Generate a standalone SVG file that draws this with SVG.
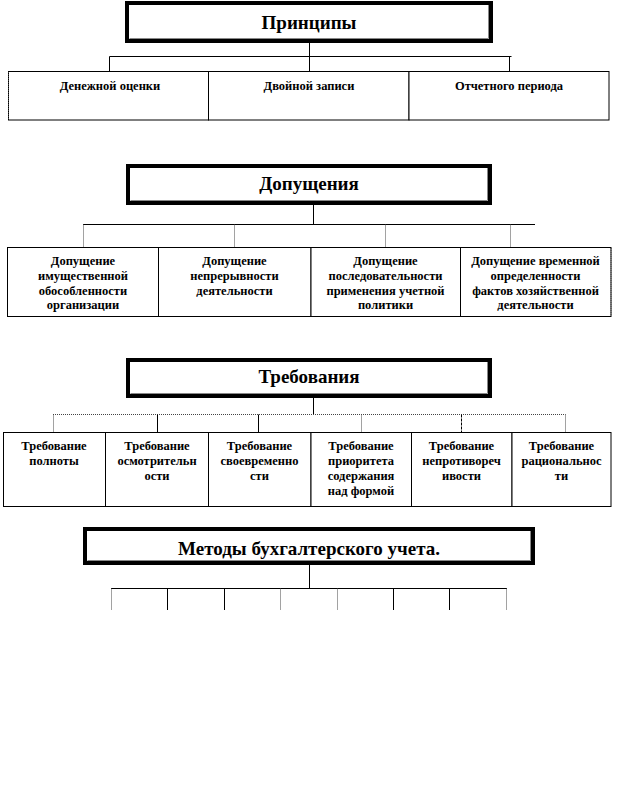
<svg xmlns="http://www.w3.org/2000/svg" width="618" height="803" viewBox="0 0 618 803">
<style>
  .title{fill:#fff;stroke:#000;stroke-width:4}
  .inner{fill:none;stroke:#888;stroke-width:1}
  .tt{font-family:"Liberation Serif","Times New Roman",serif;font-weight:bold;font-size:19px;text-anchor:middle;fill:#000}
  .box{fill:#fff;stroke:#000;stroke-width:1}
  .bt{font-family:"Liberation Serif","Times New Roman",serif;font-weight:bold;font-size:12.5px;text-anchor:middle;fill:#000}
  .ln{stroke:#000;stroke-width:1;fill:none}
  .dt{stroke:#444;stroke-width:1;fill:none;stroke-dasharray:1 1}
</style>
<rect width="618" height="803" fill="#fff"/>

<g id="connectors">
  <!-- section 1 -->
  <path class="ln" d="M309.5 43V56.5M109.5 56.5H511.5M109.5 56.5V71M309.5 56.5V71M509.5 56.5V71"/>
  <!-- section 2 -->
  <path class="ln" d="M313.5 205V224.5M83 224.5H535"/>
  <path class="dt" d="M83.5 224.5V247M234.5 224.5V247M385.5 224.5V247M510.5 224.5V247"/>
  <!-- section 3 -->
  <path class="ln" d="M313.5 398V414.5"/>
  <path class="dt" d="M53 414.5H565.5M53.5 414.5V432M361.5 414.5V432M565.5 414.5V432"/>
  <path class="ln" d="M157.5 414.5V432M258.5 414.5V432"/>
  <path class="ln" d="M461.5 414.5V432" stroke-dasharray="3 1"/>
  <!-- section 4 -->
  <path class="ln" d="M309.5 565V588.5M111 588.5H507"/>
  <path class="dt" d="M111.5 588.5V610M280.5 588.5V610M337.5 588.5V610M506.5 588.5V610"/>
  <path class="ln" d="M167.5 588.5V610M224.5 588.5V610M393.5 588.5V610M449.5 588.5V610"/>
</g>

<!-- Section 1 -->
<g id="principles">
  <rect class="title" x="127" y="3" width="364" height="38"/>
  <path class="inner" d="M129.5 38.5H488.5V5"/>
  <text class="tt" x="309" y="29">Принципы</text>
</g>
<g id="p-money">
  <rect class="box" x="8.5" y="71.5" width="200" height="48.5"/>
  <path class="dt" d="M8.5 72V120"/>
  <text class="bt" x="110" y="90">Денежной оценки</text>
</g>
<g id="p-double">
  <rect class="box" x="208.5" y="71.5" width="200.5" height="48.5"/>
  <text class="bt" x="309" y="90">Двойной записи</text>
</g>
<g id="p-period">
  <rect class="box" x="409" y="71.5" width="200" height="48.5"/>
  <text class="bt" x="509" y="90">Отчетного  периода</text>
</g>

<!-- Section 2 -->
<g id="assumptions">
  <rect class="title" x="128" y="166" width="362" height="37"/>
  <path class="inner" d="M130.5 200.5H487.5V168"/>
  <text class="tt" x="309" y="190">Допущения</text>
</g>
<g id="a-property">
  <rect class="box" x="7.5" y="247.5" width="151" height="69"/>
  <text class="bt" x="83" y="265">Допущение</text>
  <text class="bt" x="83" y="280">имущественной</text>
  <text class="bt" x="83" y="294.5">обособленности</text>
  <text class="bt" x="83" y="309">организации</text>
</g>
<g id="a-continuity">
  <rect class="box" x="158.5" y="247.5" width="152.5" height="69"/>
  <text class="bt" x="234.5" y="265">Допущение</text>
  <text class="bt" x="234.5" y="280">непрерывности</text>
  <text class="bt" x="234.5" y="294.5">деятельности</text>
</g>
<g id="a-consistency">
  <rect class="box" x="311" y="247.5" width="149.5" height="69"/>
  <text class="bt" x="385.5" y="265">Допущение</text>
  <text class="bt" x="385.5" y="280">последовательности</text>
  <text class="bt" x="385.5" y="294.5">применения учетной</text>
  <text class="bt" x="385.5" y="309">политики</text>
</g>
<g id="a-temporal">
  <rect class="box" x="460.5" y="247.5" width="150.5" height="69"/>
  <path class="dt" d="M611 248V316"/>
  <text class="bt" x="535.5" y="265">Допущение временной</text>
  <text class="bt" x="535.5" y="280">определенности</text>
  <text class="bt" x="535.5" y="294.5">фактов  хозяйственной</text>
  <text class="bt" x="535.5" y="309">деятельности</text>
</g>

<!-- Section 3 -->
<g id="requirements">
  <rect class="title" x="128" y="360" width="362" height="36"/>
  <path class="inner" d="M130.5 393.5H487.5V362"/>
  <text class="tt" x="309" y="383">Требования</text>
</g>
<g id="r-completeness">
  <rect class="box" x="3.5" y="432.5" width="102" height="74"/>
  <text class="bt" x="54" y="450">Требование</text>
  <text class="bt" x="54" y="465">полноты</text>
</g>
<g id="r-prudence">
  <rect class="box" x="105.5" y="432.5" width="103" height="74"/>
  <text class="bt" x="157" y="450">Требование</text>
  <text class="bt" x="157" y="465">осмотрительн</text>
  <text class="bt" x="157" y="480">ости</text>
</g>
<g id="r-timeliness">
  <rect class="box" x="208.5" y="432.5" width="102.5" height="74"/>
  <text class="bt" x="259.5" y="450">Требование</text>
  <text class="bt" x="259.5" y="465">своевременно</text>
  <text class="bt" x="259.5" y="480">сти</text>
</g>
<g id="r-substance">
  <rect class="box" x="311" y="432.5" width="100.5" height="74"/>
  <text class="bt" x="361" y="450">Требование</text>
  <text class="bt" x="361" y="465">приоритета</text>
  <text class="bt" x="361" y="480">содержания</text>
  <text class="bt" x="361" y="494.5">над  формой</text>
</g>
<g id="r-consistency">
  <rect class="box" x="411.5" y="432.5" width="100.5" height="74"/>
  <text class="bt" x="461.5" y="450">Требование</text>
  <text class="bt" x="461.5" y="465">непротивореч</text>
  <text class="bt" x="461.5" y="480">ивости</text>
</g>
<g id="r-rationality">
  <rect class="box" x="512" y="432.5" width="99" height="74"/>
  <text class="bt" x="561.5" y="450">Требование</text>
  <text class="bt" x="561.5" y="465">рациональнос</text>
  <text class="bt" x="561.5" y="480">ти</text>
</g>

<!-- Section 4 -->
<g id="methods">
  <rect class="title" x="85" y="529" width="448" height="34"/>
  <path class="inner" d="M87.5 560.5H530.5V531"/>
  <text class="tt" x="309" y="555">Методы бухгалтерского учета.</text>
</g>
</svg>
